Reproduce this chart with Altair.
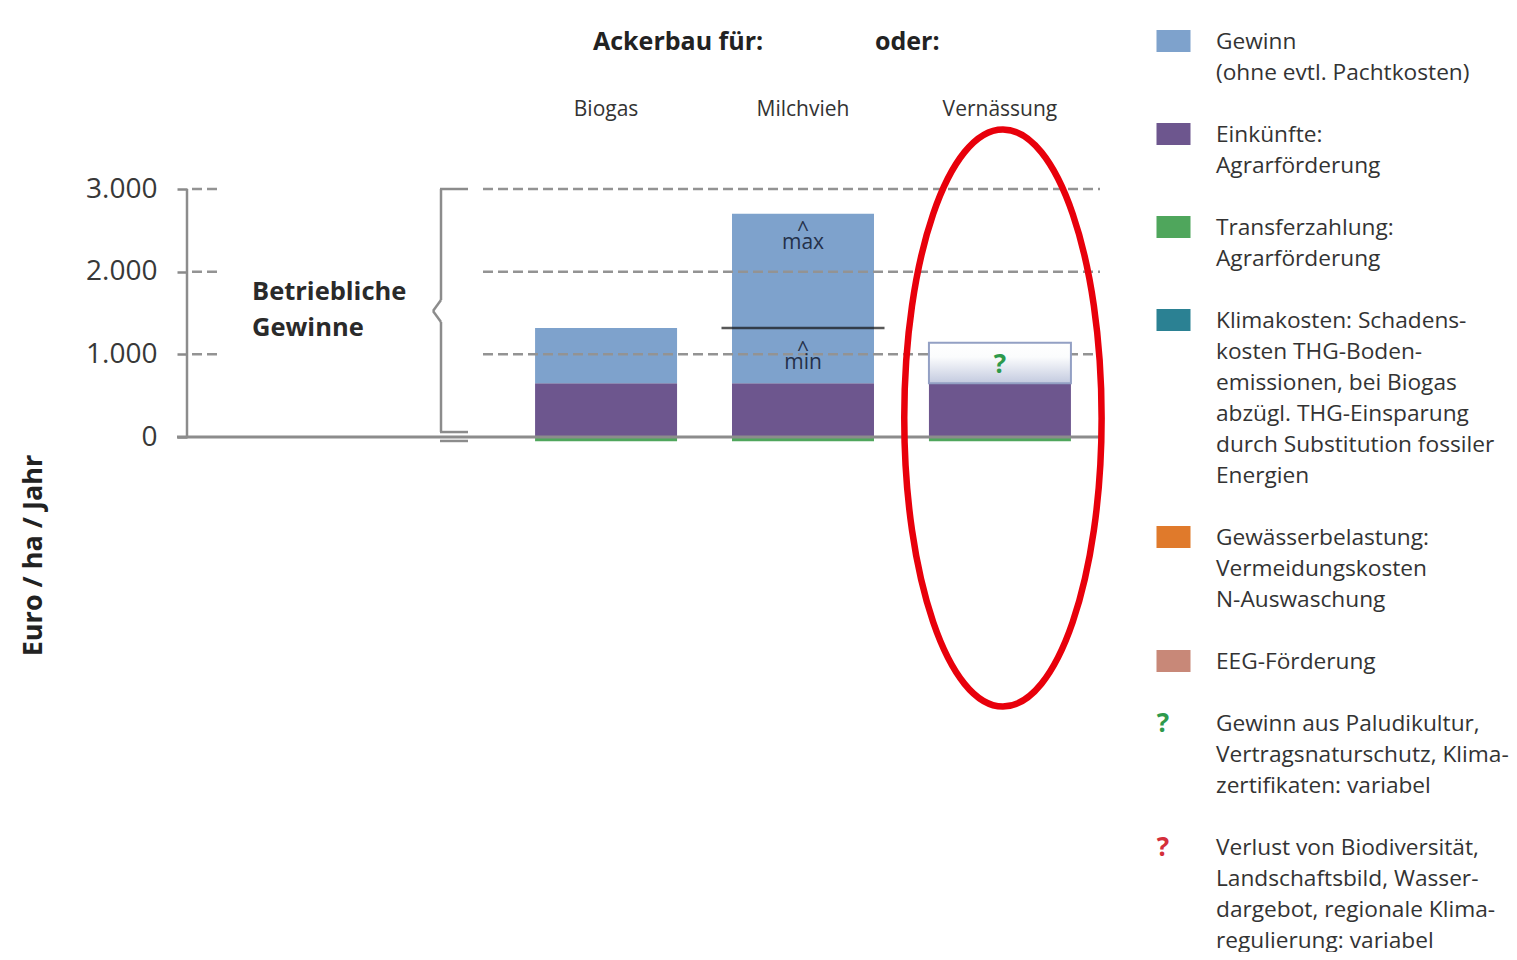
import altair as alt
import pandas as pd

# ---------------- data ----------------
kategorien = ["Biogas", "Milchvieh", "Vernässung"]
transferzahlung = [50, 50, 50]        # thin green strip, drawn just below the zero line
einkuenfte = [650, 650, 650]          # purple: Agrarförderung
gewinn = [670, 2050, 0]               # blue: Gewinn above the purple block
paludikultur = [0, 0, 490]            # "?" box for Vernässung
milchvieh_min = 1320                  # black "min" line in the Milchvieh bar

y_ticks = [0, 1000, 2000, 3000]

komponenten = ["Gewinn", "Einkünfte", "Transferzahlung", "Klimakosten",
               "Gewässerbelastung", "EEG-Förderung"]
farben = ["#7ea2cc", "#6d568e", "#4fa65c", "#2b8193", "#e07a2b", "#c88878"]

legende_texte = [
    ["Gewinn", "(ohne evtl. Pachtkosten)"],
    ["Einkünfte:", "Agrarförderung"],
    ["Transferzahlung:", "Agrarförderung"],
    ["Klimakosten: Schadens-", "kosten THG-Boden-", "emissionen, bei Biogas",
     "abzügl. THG-Einsparung", "durch Substitution fossiler", "Energien"],
    ["Gewässerbelastung:", "Vermeidungskosten", "N-Auswaschung"],
    ["EEG-Förderung"],
    ["Gewinn aus Paludikultur,", "Vertragsnaturschutz, Klima-", "zertifikaten: variabel"],
    ["Verlust von Biodiversität,", "Landschaftsbild, Wasser-",
     "dargebot, regionale Klima-", "regulierung: variabel"],
]
legende_symbol = ["Gewinn", "Einkünfte", "Transferzahlung", "Klimakosten",
                  "Gewässerbelastung", "EEG-Förderung", "?gruen", "?rot"]

# ---------------- tables ----------------
rows = []
for i, k in enumerate(kategorien):
    rows.append(dict(Kategorie=k, Komponente="Transferzahlung", von=-transferzahlung[i], bis=0))
    rows.append(dict(Kategorie=k, Komponente="Einkünfte", von=0, bis=einkuenfte[i]))
    if gewinn[i] > 0:
        rows.append(dict(Kategorie=k, Komponente="Gewinn", von=einkuenfte[i],
                         bis=einkuenfte[i] + gewinn[i]))
df_bars = pd.DataFrame(rows)

df_palu = pd.DataFrame([dict(Kategorie=k, von=einkuenfte[i], bis=einkuenfte[i] + paludikultur[i])
                        for i, k in enumerate(kategorien) if paludikultur[i] > 0])

zeilen, swatch, fragen_g, fragen_r = [], [], [], []
z = 0
for txt, sym in zip(legende_texte, legende_symbol):
    if sym == "?gruen":
        fragen_g.append(dict(zeile=z, t="?"))
    elif sym == "?rot":
        fragen_r.append(dict(zeile=z, t="?"))
    else:
        swatch.append(dict(zeile=z, Komponente=sym))
    for line in txt:
        zeilen.append(dict(zeile=z, text=line))
        z += 1
    z += 1
df_leg = pd.DataFrame(zeilen)
df_sw = pd.DataFrame(swatch)
df_qg = pd.DataFrame(fragen_g)
df_qr = pd.DataFrame(fragen_r)

# ---------------- scales / axes ----------------
FONT = "Open Sans"
PAD_L, PAD_T = 179, 112
W, H = 1501 - PAD_L, 944 - PAD_T
yscale = alt.Scale(domain=[-6229.8, 3834.7], nice=False, zero=False)
xscale = alt.Scale(domain=kategorien, range=[320.5, 911.5], paddingInner=0.279, paddingOuter=0.14)
colscale = alt.Scale(domain=komponenten, range=farben)
legscale = alt.Scale(domain=[2.516, 29.355], reverse=True, nice=False, zero=False)

yaxis = alt.Axis(values=y_ticks, labelExpr="replace(format(datum.value, ','), ',', '.')",
                 domain=False, grid=False, tickSize=10, tickWidth=2.5, tickColor="#8a8a8a",
                 labelFontSize=28, labelFont=FONT, labelColor="#383838", labelPadding=20,
                 title="Euro / ha / Jahr", titleFont=FONT, titleFontSize=27,
                 titleFontWeight="bold", titleColor="#222222", titleX=-154, titleY=435,
                 titleAngle=270, titleAlign="center", titleBaseline="middle")

GRAU = "#8c8c8c"


def seg(y1, y2, x1, x2, color=GRAU, width=2.5):
    return alt.Chart(pd.DataFrame({"a": [y1], "b": [y2]})).mark_rule(color=color, strokeWidth=width).encode(
        y=alt.Y("a:Q", scale=yscale, axis=None), y2="b:Q",
        x=alt.value(x1), x2=alt.value(x2))


df_grid = pd.DataFrame({"wert": y_ticks[1:]})
grid_long = alt.Chart(df_grid).mark_rule(color="#939393", strokeWidth=2.5, strokeDash=[10, 5]).encode(
    y=alt.Y("wert:Q", scale=yscale, axis=None), x=alt.value(296), x2=alt.value(913))
grid_short = alt.Chart(df_grid).mark_rule(color="#939393", strokeWidth=2.5, strokeDash=[10, 5]).encode(
    y=alt.Y("wert:Q", scale=yscale, axis=None), x=alt.value(5), x2=alt.value(30))

bars = alt.Chart(df_bars).mark_bar().encode(
    x=alt.X("Kategorie:N", scale=xscale, axis=None, sort=kategorien),
    y=alt.Y("von:Q", scale=yscale, axis=yaxis),
    y2="bis:Q",
    color=alt.Color("Komponente:N", scale=colscale, legend=None),
)

# category names above the columns
kat_lab = alt.Chart(pd.DataFrame({"Kategorie": kategorien, "w": [3956] * len(kategorien)})).mark_text(
    font=FONT, fontSize=21, color="#333333", baseline="middle").encode(
    x=alt.X("Kategorie:N", scale=xscale, axis=None), y=alt.Y("w:Q", scale=yscale, axis=None),
    text="Kategorie:N")

palu = alt.Chart(df_palu).mark_bar(
    color=alt.Gradient(gradient="linear",
                       stops=[alt.GradientStop(color="#ffffff", offset=0),
                              alt.GradientStop(color="#fbfcfd", offset=0.35),
                              alt.GradientStop(color="#c3cadf", offset=1)],
                       x1=0, x2=0, y1=0, y2=1),
    stroke="#93a0c4", strokeWidth=2,
).encode(x=alt.X("Kategorie:N", scale=xscale, axis=None),
         y=alt.Y("von:Q", scale=yscale, axis=None), y2="bis:Q")

axis_line = seg(y_ticks[-1], y_ticks[0], 0, 0, width=2.5)
baseline = seg(0, 0, -10, 913, width=3)

brace = [
    seg(3000, 1657, 254, 254), seg(1391, 60, 254, 254),
    seg(1657, 1524, 254, 246), seg(1524, 1391, 246, 254),
    seg(3000, 3000, 253, 281), seg(60, 60, 253, 281), seg(-48, -48, 253, 281),
]

min_line = alt.Chart(pd.DataFrame({"Kategorie": ["Milchvieh"], "w": [milchvieh_min]})).mark_tick(
    orient="horizontal", size=163, thickness=2.5, color="#111111").encode(
    x=alt.X("Kategorie:N", scale=xscale, axis=None), y=alt.Y("w:Q", scale=yscale, axis=None))

# "^ max" / "^ min" as two-line labels (caret above the word)
df_lab = pd.DataFrame({"Kategorie": ["Milchvieh", "Milchvieh"],
                       "t": ["^\nmax", "^\nmin"], "w": [2498, 1035]})
labs = alt.Chart(df_lab).mark_text(font=FONT, fontSize=21, color="#243049", baseline="middle",
                                   lineBreak="\n", lineHeight=12).encode(
    x=alt.X("Kategorie:N", scale=xscale, axis=None), y=alt.Y("w:Q", scale=yscale, axis=None), text="t:N")

qbox = alt.Chart(pd.DataFrame({"Kategorie": ["Vernässung"], "w": [871], "t": ["?"]})).mark_text(
    font=FONT, fontSize=26, fontWeight="bold", color="#2e9a4c", baseline="middle").encode(
    x=alt.X("Kategorie:N", scale=xscale, axis=None), y=alt.Y("w:Q", scale=yscale, axis=None), text="t:N")

head = alt.Chart(pd.DataFrame({"t": ["Ackerbau für:"], "w": [4778]})).mark_text(
    font=FONT, fontSize=25, fontWeight="bold", color="#222222", align="left", baseline="middle").encode(
    x=alt.value(406), y=alt.Y("w:Q", scale=yscale, axis=None), text="t:N")
head2 = alt.Chart(pd.DataFrame({"t": ["oder:"], "w": [4778]})).mark_text(
    font=FONT, fontSize=25, fontWeight="bold", color="#222222", align="left", baseline="middle").encode(
    x=alt.value(688), y=alt.Y("w:Q", scale=yscale, axis=None), text="t:N")
betr = alt.Chart(pd.DataFrame({"t": ["Betriebliche", "Gewinne"], "w": [1754, 1318]})).mark_text(
    font=FONT, fontSize=25.5, fontWeight="bold", color="#2a2a2a", align="left", baseline="middle").encode(
    x=alt.value(65), y=alt.Y("w:Q", scale=yscale, axis=None), text="t:N")

ELL = ("M 0 -1 C 0.1889 -1 0.342 -0.5523 0.342 0 C 0.342 0.5523 0.1889 1 0 1 "
       "C -0.1889 1 -0.342 0.5523 -0.342 0 C -0.342 -0.5523 -0.1889 -1 0 -1 Z")
ellipse = alt.Chart(pd.DataFrame({"Kategorie": ["Vernässung"], "w": [230]})).mark_point(
    shape=ELL, size=333000, filled=False, strokeWidth=6.5, color="#e8000b", opacity=1, xOffset=3).encode(
    x=alt.X("Kategorie:N", scale=xscale, axis=None), y=alt.Y("w:Q", scale=yscale, axis=None))

RECT = "M -1 -0.647 L 1 -0.647 L 1 0.647 L -1 0.647 Z"
leg_sw = alt.Chart(df_sw).mark_point(shape=RECT, size=1156, filled=True, opacity=1, yOffset=-1).encode(
    x=alt.value(986.5), y=alt.Y("zeile:Q", scale=legscale, axis=None),
    color=alt.Color("Komponente:N", scale=colscale, legend=None))
leg_txt = alt.Chart(df_leg).mark_text(font=FONT, fontSize=22.7, color="#333333", align="left",
                                      baseline="middle").encode(
    x=alt.value(1029), y=alt.Y("zeile:Q", scale=legscale, axis=None), text="text:N")
leg_qg = alt.Chart(df_qg).mark_text(font=FONT, fontSize=26, fontWeight="bold", color="#2e9a4c",
                                    baseline="middle").encode(
    x=alt.value(976), y=alt.Y("zeile:Q", scale=legscale, axis=None), text="t:N")
leg_qr = alt.Chart(df_qr).mark_text(font=FONT, fontSize=26, fontWeight="bold", color="#d42f3a",
                                    baseline="middle").encode(
    x=alt.value(976), y=alt.Y("zeile:Q", scale=legscale, axis=None), text="t:N")

chart = alt.layer(
    bars, grid_long, grid_short, palu, axis_line, baseline, *brace,
    min_line, labs, qbox, kat_lab, head, head2, betr, ellipse,
    leg_sw, leg_txt, leg_qg, leg_qr,
).resolve_scale(y="independent").properties(
    width=W, height=H, background="white",
    padding={"left": PAD_L, "top": PAD_T, "right": 0, "bottom": 0},
    autosize=alt.AutoSizeParams(type="none"),
).configure_view(stroke=None)

chart.save("out.html", embed_options={"renderer": "svg", "actions": False})
